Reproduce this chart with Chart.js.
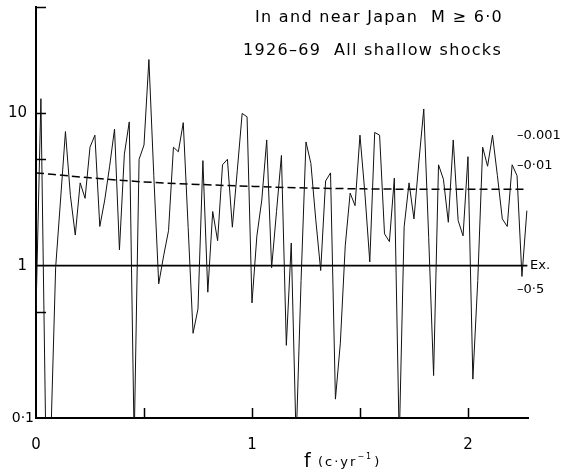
<!DOCTYPE html>
<html>
<head>
<meta charset="utf-8">
<script src="https://cdn.jsdelivr.net/npm/chart.js"></script>
<style>
  html, body { margin: 0; padding: 0; background: #fff; }
  canvas { display: block; }
</style>
</head>
<body>
<canvas id="myChart" width="565" height="471"></canvas>
<script>
// spectrum, one value every 1/44 c/yr (1926-69)
var step = 1 / 44;
var power = [
  0.5, 12.5, 0.07, 0.07, 0.97, 2.7, 7.6, 2.9, 1.59, 3.5,
  2.77, 6.0, 7.2, 1.81, 2.7, 4.5, 7.9, 1.27, 5.4, 8.8,
  0.07, 5.0, 6.2, 22.6, 3.9, 0.76, 1.16, 1.7, 6.0, 5.6,
  8.7, 1.78, 0.36, 0.52, 4.9, 0.67, 2.27, 1.46, 4.6, 5.0,
  1.79, 4.2, 10.0, 9.5, 0.57, 1.57, 2.7, 6.7, 0.97, 2.27,
  5.3, 0.30, 1.41, 0.07, 0.8, 6.5, 4.7, 2.0, 0.93, 3.6,
  4.07, 0.133, 0.31, 1.35, 3.0, 2.48, 7.2, 3.0, 1.06, 7.5,
  7.2, 1.62, 1.44, 3.76, 0.07, 1.8, 3.5, 2.03, 4.8, 10.7,
  1.53, 0.19, 4.6, 3.7, 1.93, 6.7, 1.98, 1.57, 5.2, 0.18,
  0.8, 6.0, 4.5, 7.2, 3.9, 2.03, 1.81, 4.6, 3.9, 0.85,
  2.3
];
// dashed curve
var dashF = [0, 0.25, 0.5, 0.75, 1.0, 1.25, 1.5, 1.75, 2.0, 2.27];
var dashV = [4.07, 3.78, 3.55, 3.42, 3.32, 3.24, 3.2, 3.18, 3.18, 3.18];
// expected level
var exF = [0, 2.275];
var exV = [1, 1];

var yLabels = [0.1, 1, 10];
var yLabelText = ['0\u00b71', '1', '10'];
var xLabels = [0, 1, 2];
var yMarks = [0.5, 5, 10, 50];
var xMarks = [0.5, 1, 1.5, 2];
var levelValues = [7.1, 4.55, 1, 0.7];
var levelText = ['\u20130.001', '\u20130\u00b701', 'Ex.', '\u20130\u00b75'];

var FONT = '"DejaVu Sans", sans-serif';

var extras = {
  id: 'extras',
  afterDraw: function (chart) {
    var ctx = chart.ctx;
    var xs = chart.scales.x, ys = chart.scales.y;
    var area = chart.chartArea;
    ctx.save();
    ctx.strokeStyle = '#000';
    ctx.lineWidth = 1.5;
    // inward tick marks
    xMarks.forEach(function (v) {
      var px = Math.round(xs.getPixelForValue(v)) + 0.5;
      ctx.beginPath();
      ctx.moveTo(px, area.bottom);
      ctx.lineTo(px, area.bottom - 10);
      ctx.stroke();
    });
    yMarks.forEach(function (v) {
      var py = Math.round(ys.getPixelForValue(v)) + 0.5;
      ctx.beginPath();
      ctx.moveTo(area.left, py);
      ctx.lineTo(area.left + 10, py);
      ctx.stroke();
    });
    ctx.fillStyle = '#000';
    // y tick labels
    ctx.textBaseline = 'middle';
    ctx.textAlign = 'right';
    yLabels.forEach(function (v, i) {
      ctx.font = (v < 1 ? '14px ' : '15px ') + FONT;
      var x = v < 1 ? 34 : 27;
      ctx.fillText(yLabelText[i], x, ys.getPixelForValue(v));
    });
    // level labels on the right
    ctx.font = '13px ' + FONT;
    ctx.textAlign = 'left';
    levelValues.forEach(function (v, i) {
      var py = ys.getPixelForValue(v);
      var x = levelText[i] == 'Ex.' ? area.right + 2 : area.right - 11;
      ctx.fillText(levelText[i], x, py);
    });
    // heading
    ctx.textBaseline = 'alphabetic';
    ctx.font = '16px ' + FONT;
    ctx.letterSpacing = '1.3px';
    ctx.fillText('In and near Japan  M \u2265 6\u00b70', 255, 22);
    ctx.fillText('1926\u201369  All shallow shocks', 243, 55);
    // x title
    ctx.letterSpacing = '0px';
    ctx.font = '19px ' + FONT;
    ctx.fillText('f', 304, 467);
    ctx.letterSpacing = '2px';
    ctx.font = '13px ' + FONT;
    ctx.fillText('(c\u00b7yr', 318, 466);
    var w = ctx.measureText('(c\u00b7yr').width;
    ctx.font = '8px ' + FONT;
    ctx.fillText('\u22121', 318 + w, 459);
    var w2 = ctx.measureText('\u22121').width;
    ctx.font = '13px ' + FONT;
    ctx.fillText(')', 318 + w + w2 + 1, 466);
    ctx.restore();
  }
};

var ctx = document.getElementById('myChart').getContext('2d');
var myChart = new Chart(ctx, {
  type: 'line',
  data: {
    datasets: [{
      data: power.map(function (v, i) { return {x: i * step, y: v}; }),
      borderColor: '#111',
      borderWidth: 1,
      pointRadius: 0,
      tension: 0
    }, {
      data: dashF.map(function (f, i) { return {x: f, y: dashV[i]}; }),
      borderColor: '#000',
      borderWidth: 1.5,
      borderDash: [8, 4],
      pointRadius: 0,
      cubicInterpolationMode: 'monotone'
    }, {
      data: exF.map(function (f, i) { return {x: f, y: exV[i]}; }),
      borderColor: '#000',
      borderWidth: 1.8,
      pointRadius: 0
    }]
  },
  options: {
    responsive: false,
    animation: false,
    devicePixelRatio: 1,
    layout: {padding: {top: 7, right: 37, left: 0, bottom: 0}},
    plugins: {legend: {display: false}, tooltip: {enabled: false}, title: {display: false}},
    scales: {
      x: {
        type: 'linear',
        min: 0,
        max: 2.278,
        afterFit: function (s) { s.height = 53; },
        afterBuildTicks: function (s) { s.ticks = xLabels.map(function (v) { return {value: v}; }); },
        grid: {display: false},
        border: {display: true, color: '#000', width: 2},
        ticks: {
          color: '#000',
          font: {family: FONT, size: 15},
          padding: 10,
          maxRotation: 0,
          callback: function (v) { return String(v); }
        }
      },
      y: {
        type: 'logarithmic',
        min: 0.1,
        max: 50,
        afterFit: function (s) { s.width = 36; },
        afterBuildTicks: function (s) { s.ticks = yLabels.map(function (v) { return {value: v}; }); },
        grid: {display: false},
        border: {display: true, color: '#000', width: 2},
        ticks: {display: false}
      }
    }
  },
  plugins: [extras]
});
</script>
</body>
</html>
